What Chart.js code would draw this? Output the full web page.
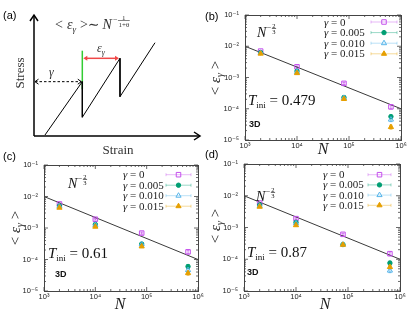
<!DOCTYPE html>
<html><head><meta charset="utf-8">
<script src="https://cdn.jsdelivr.net/npm/chart.js@4.4.1/dist/chart.umd.min.js"></script>
<style>
html,body{margin:0;padding:0;background:#fff;}
body{width:415px;height:312px;position:relative;overflow:hidden;}
canvas{position:absolute;}
</style></head><body>
<canvas id="pa" width="205" height="160" style="left:0px;top:0px"></canvas>
<canvas id="pb" width="215" height="155" style="left:200px;top:0px"></canvas>
<canvas id="pc" width="210" height="162" style="left:0px;top:150px"></canvas>
<canvas id="pd" width="215" height="162" style="left:200px;top:150px"></canvas>
<script>
// ---------------- data ----------------
const N_VALUES = [2000, 10000, 80000, 640000];
const GAMMA_LABELS = ['0', '0.005', '0.010', '0.015'];
const X_TICKS = [1e3, 1e4, 1e5, 1e6];
const Y_TICKS = [1e-5, 1e-4, 1e-3, 1e-2, 1e-1];
const FIT_N = [1e3, 1e6];
const FIT_EPS = [1e-2, 1e-4];
const ERR_REL = [0.05, 0.06, 0.08, 0.14];

// panel (b): T_ini = 0.479
const B_G0   = [7.0e-3, 2.2e-3, 6.5e-4, 1.15e-4];
const B_G005 = [6.3e-3, 1.6e-3, 2.3e-4, 5.6e-5];
const B_G010 = [6.1e-3, 1.5e-3, 2.2e-4, 4.5e-5];
const B_G015 = [5.8e-3, 1.38e-3, 2.05e-4, 2.6e-5];
// panel (c): T_ini = 0.61
const C_G0   = [5.8e-3, 1.9e-3, 6.9e-4, 1.75e-4];
const C_G005 = [5.0e-3, 1.3e-3, 3.1e-4, 6.0e-5];
const C_G010 = [4.8e-3, 1.25e-3, 3.0e-4, 4.6e-5];
const C_G015 = [4.4e-3, 1.1e-3, 2.6e-4, 3.7e-5];
// panel (d): T_ini = 0.87
const D_G0   = [5.9e-3, 1.9e-3, 6.1e-4, 1.5e-4];
const D_G005 = [5.1e-3, 1.45e-3, 2.9e-4, 7.6e-5];
const D_G010 = [4.8e-3, 1.35e-3, 2.9e-4, 4.4e-5];
const D_G015 = [4.5e-3, 1.18e-3, 2.85e-4, 5.7e-5];

// panel (a): schematic stress-strain sawtooth (arbitrary units)
const SAW_STRAIN = [0.66, 2.91, 2.91, 5.18, 5.18, 7.29];
const SAW_STRESS = [0.08, 4.49, 1.55, 6.42, 3.25, 7.71];
const GREEN_STRAIN = [2.91, 2.91];
const GREEN_STRESS = [3.86, 7.05];
const GAMMA_ARROW_STRAIN = [0, 2.91];
const GAMMA_ARROW_STRESS = 4.49;
const EPS_ARROW_STRAIN = [2.91, 5.18];
const EPS_ARROW_STRESS = 6.42;

// ---------------- helpers ----------------
const SERIF = '"Liberation Serif","DejaVu Serif",serif';
const SANS = '"Liberation Sans","DejaVu Sans",Arial,sans-serif';
const SUP = {'-':'\u207B','0':'\u2070','1':'\u00B9','2':'\u00B2','3':'\u00B3','4':'\u2074','5':'\u2075','6':'\u2076','7':'\u2077','8':'\u2078','9':'\u2079'};
function isPow10(v){ const e = Math.log10(v); return Math.abs(e - Math.round(e)) < 1e-9; }
function majorLabel(v){ if(!isPow10(v)) return ''; return '10' + String(Math.round(Math.log10(v))).split('').map(c=>SUP[c]).join(''); }
function withMinor(majors){
  const out = [];
  for (let i=0;i<majors.length;i++){
    out.push({value:majors[i]});
    if (i<majors.length-1) for (let m=2;m<=9;m++) out.push({value:majors[i]*m});
  }
  return out;
}
function frac(ctx, x, bar, num, den, s){
  ctx.font = s+'px '+SERIF;
  const w = Math.max(ctx.measureText(num).width, ctx.measureText(den).width)+1;
  const ta = ctx.textAlign; ctx.textAlign='center';
  ctx.fillText(num, x+w/2, bar-1.2);
  ctx.fillText(den, x+w/2, bar+s*0.72+0.6);
  ctx.textAlign = ta;
  ctx.fillRect(x, bar-0.6, w, 0.6);
  return w;
}
function runs(ctx, x, y, parts){
  ctx.textAlign='left';
  for (const p of parts){
    if (p.frac){ x += frac(ctx, x, y+(p.dy||0), p.frac[0], p.frac[1], p.s) + (p.dx||0); continue; }
    ctx.font = (p.it?'italic ':'') + (p.b?'bold ':'') + p.s + 'px ' + (p.f||SERIF);
    ctx.fillText(p.t, x, y+(p.dy||0));
    x += ctx.measureText(p.t).width + (p.dx||0);
  }
  return x;
}
function runsWidth(ctx, parts){
  let w = 0;
  for (const p of parts){
    if (p.frac){ ctx.font = p.s+'px '+SERIF; w += Math.max(ctx.measureText(p.frac[0]).width, ctx.measureText(p.frac[1]).width)+1+(p.dx||0); continue; }
    ctx.font = (p.it?'italic ':'') + (p.b?'bold ':'') + p.s + 'px ' + (p.f||SERIF);
    w += ctx.measureText(p.t).width + (p.dx||0);
  }
  return w;
}
function line(ctx,x0,y0,x1,y1){ ctx.beginPath(); ctx.moveTo(x0,y0); ctx.lineTo(x1,y1); ctx.stroke(); }

const SERIES_STYLE = [
  {color:'#c450ec', style:'rect', fill:false, r:3.2},
  {color:'#009e73', style:'circle', fill:true, r:2.2},
  {color:'#56b4e9', style:'triangle', fill:false, r:3},
  {color:'#e69f00', style:'triangle', fill:true, r:3}
];

// ---------------- panel (a) ----------------
const schematicPlugin = {
  id:'schematic',
  afterDraw(chart){
    const ctx = chart.ctx, a = chart.chartArea, sx = chart.scales.x, sy = chart.scales.y;
    ctx.save();
    ctx.strokeStyle = '#000'; ctx.fillStyle = '#000'; ctx.lineWidth = 1.5;
    // axes with chevrons
    line(ctx, a.left, a.bottom, a.left, a.top);
    ctx.beginPath(); ctx.moveTo(a.left-4, a.top+6); ctx.lineTo(a.left, a.top); ctx.lineTo(a.left+4, a.top+6); ctx.stroke();
    line(ctx, a.left, a.bottom, a.right, a.bottom);
    ctx.beginPath(); ctx.moveTo(a.right-6, a.bottom-4); ctx.lineTo(a.right, a.bottom); ctx.lineTo(a.right-6, a.bottom+4); ctx.stroke();
    // dashed gamma arrow
    const gy = sy.getPixelForValue(GAMMA_ARROW_STRESS);
    const gx0 = sx.getPixelForValue(GAMMA_ARROW_STRAIN[0])+1, gx1 = sx.getPixelForValue(GAMMA_ARROW_STRAIN[1])-1;
    ctx.lineWidth = 1; ctx.setLineDash([2.5,2]);
    line(ctx, gx0, gy, gx1, gy);
    ctx.setLineDash([]);
    ctx.beginPath(); ctx.moveTo(gx0+3.5, gy-2.5); ctx.lineTo(gx0, gy); ctx.lineTo(gx0+3.5, gy+2.5); ctx.stroke();
    ctx.beginPath(); ctx.moveTo(gx1-3.5, gy-2.5); ctx.lineTo(gx1, gy); ctx.lineTo(gx1-3.5, gy+2.5); ctx.stroke();
    // red epsilon arrow
    const ey = sy.getPixelForValue(EPS_ARROW_STRESS);
    const ex0 = sx.getPixelForValue(EPS_ARROW_STRAIN[0])+1, ex1 = sx.getPixelForValue(EPS_ARROW_STRAIN[1])-1;
    ctx.strokeStyle = '#f04848'; ctx.fillStyle = '#f04848'; ctx.lineWidth = 1.5;
    line(ctx, ex0+2, ey, ex1-2, ey);
    ctx.beginPath(); ctx.moveTo(ex0, ey); ctx.lineTo(ex0+4, ey-2.5); ctx.lineTo(ex0+4, ey+2.5); ctx.closePath(); ctx.fill();
    ctx.beginPath(); ctx.moveTo(ex1, ey); ctx.lineTo(ex1-4, ey-2.5); ctx.lineTo(ex1-4, ey+2.5); ctx.closePath(); ctx.fill();
    // texts
    ctx.fillStyle = '#000';
    ctx.font = '11px '+SANS; ctx.textAlign='left'; ctx.fillText('(a)', 3, 19);
    ctx.fillStyle = '#333';
    runs(ctx, 55, 29, [
      {t:'<', s:14, dx:4}, {t:'\u03B5', s:14, it:true}, {t:'\u03B3', s:9, it:true, dy:3, dx:4}, {t:'>\u223C', s:14, dx:3},
      {t:'N', s:14, it:true, dx:1}, {t:'\u2212', s:8, dy:-7, dx:0.5}, {frac:['1','1+\u03B8'], s:7, dy:-8}
    ]);
    runs(ctx, 49, 76, [{t:'\u03B3', s:12, it:true}]);
    runs(ctx, 97, 52, [{t:'\u03B5', s:12, it:true}, {t:'\u03B3', s:8, it:true, dy:3}]);
    ctx.font = '13px '+SERIF; ctx.textAlign='center';
    ctx.fillText('Strain', 118, 154);
    ctx.save(); ctx.translate(24, 73); ctx.rotate(-Math.PI/2); ctx.fillText('Stress', 0, 0); ctx.restore();
    ctx.restore();
  }
};
new Chart(document.getElementById('pa'), {
  type:'scatter',
  data:{datasets:[
    {data:SAW_STRAIN.map((x,i)=>({x, y:SAW_STRESS[i]})), showLine:true, pointRadius:0, borderColor:'#000', borderWidth:1, tension:0},
    {data:GREEN_STRAIN.map((x,i)=>({x, y:GREEN_STRESS[i]})), showLine:true, pointRadius:0, borderColor:'#33cc33', borderWidth:1.5, tension:0}
  ]},
  options:{
    responsive:false, animation:false, devicePixelRatio:1,
    layout:{padding:{left:34, right:5, top:15, bottom:24}},
    plugins:{legend:{display:false}, tooltip:{enabled:false}},
    scales:{x:{type:'linear', min:0, max:10, display:false}, y:{type:'linear', min:0, max:10, display:false}}
  },
  plugins:[schematicPlugin]
});

// ---------------- panels (b)-(d) ----------------
function makePanel(id, cfg){
  const datasets = [];
  for (let i=3;i>=0;i--){
    const st = SERIES_STYLE[i];
    datasets.push({
      label:'\u03B3 = '+GAMMA_LABELS[i],
      data:N_VALUES.map((n,k)=>({x:n, y:cfg.series[i][k]})),
      pointStyle:st.style, pointRadius:st.r, pointHoverRadius:st.r,
      borderColor:st.color, backgroundColor: st.fill ? st.color : 'rgba(0,0,0,0)',
      borderWidth:1, showLine:false, errRel:ERR_REL
    });
  }
  datasets.push({label:'fit', data:FIT_N.map((n,k)=>({x:n, y:FIT_EPS[k]})), showLine:true, pointRadius:0, borderColor:'#3a3a3a', borderWidth:1, tension:0});

  const deco = {
    id:'deco'+id,
    beforeDatasetsDraw(chart){
      const ctx = chart.ctx, sy = chart.scales.y;
      ctx.save(); ctx.lineWidth = 0.8;
      chart.data.datasets.forEach((d,i)=>{
        if (!d.errRel) return;
        const meta = chart.getDatasetMeta(i);
        ctx.strokeStyle = d.borderColor;
        d.data.forEach((p,k)=>{
          const x = meta.data[k].x, e = d.errRel[k];
          const y0 = sy.getPixelForValue(p.y*(1+e)), y1 = sy.getPixelForValue(p.y*(1-e));
          line(ctx, x, y0, x, y1); line(ctx, x-1.5, y0, x+1.5, y0); line(ctx, x-1.5, y1, x+1.5, y1);
        });
      });
      ctx.restore();
    },
    afterDraw(chart){
      const ctx = chart.ctx, a = chart.chartArea, sx = chart.scales.x, sy = chart.scales.y;
      ctx.save();
      ctx.strokeStyle = '#444'; ctx.lineWidth = 1;
      ctx.strokeRect(Math.round(a.left)+0.5, Math.round(a.top)+0.5, Math.round(a.right-a.left), Math.round(a.bottom-a.top));
      ctx.lineWidth = 0.8;
      sx.ticks.forEach(t=>{
        const p = sx.getPixelForValue(t.value), L = isPow10(t.value) ? 4 : 2;
        line(ctx, p, a.bottom, p, a.bottom-L); line(ctx, p, a.top, p, a.top+L);
      });
      sy.ticks.forEach(t=>{
        const p = sy.getPixelForValue(t.value), L = isPow10(t.value) ? 4 : 2;
        line(ctx, a.left, p, a.left+L, p); line(ctx, a.right, p, a.right-L, p);
      });
      // legend
      const lg = cfg.legend;
      for (let i=0;i<4;i++){
        const st = SERIES_STYLE[i], y = lg.y0 + i*lg.dy;
        ctx.fillStyle = '#222';
        runs(ctx, lg.tx, y+3.5, [{t:'\u03B3', s:11, it:true}, {t:' = '+GAMMA_LABELS[i], s:11}]);
        ctx.globalAlpha = 0.4; ctx.strokeStyle = st.color; ctx.lineWidth = 1;
        line(ctx, lg.sx0, y, lg.sx1, y); line(ctx, lg.sx0, y-1.5, lg.sx0, y+1.5); line(ctx, lg.sx1, y-1.5, lg.sx1, y+1.5);
        ctx.globalAlpha = 1;
        ctx.fillStyle = st.fill ? st.color : 'rgba(0,0,0,0)'; ctx.strokeStyle = st.color; ctx.lineWidth = 1;
        Chart.helpers.drawPoint(ctx, {pointStyle:st.style, radius:st.r, borderWidth:1, rotation:0}, (lg.sx0+lg.sx1)/2, y);
      }
      // annotations
      ctx.fillStyle = '#111';
      runs(ctx, cfg.nPow.x, cfg.nPow.y, [{t:'N', s:14, it:true, dx:0.5}, {t:'\u2212', s:8, dy:-7, dx:0.5}, {frac:['2','3'], s:6.5, dy:-8}]);
      runs(ctx, cfg.tiniPos.x, cfg.tiniPos.y, [{t:'T', s:15, it:true}, {t:'ini', s:9, dy:3}, {t:' = '+cfg.tini, s:15}]);
      runs(ctx, cfg.d3.x, cfg.d3.y, [{t:'3D', s:9, b:true, f:SANS}]);
      // axis titles
      ctx.fillStyle = '#222';
      ctx.font = 'italic 16px '+SERIF; ctx.textAlign = 'center';
      ctx.fillText('N', cfg.xTitle.x, cfg.xTitle.y);
      const yt = [{t:'< ', s:15}, {t:'\u03B5', s:15, it:true}, {t:'\u03B3', s:10, it:true, dy:3}, {t:' >', s:15}];
      ctx.save(); ctx.translate(cfg.yTitle.x, cfg.yTitle.y); ctx.rotate(-Math.PI/2);
      const w = runsWidth(ctx, yt); runs(ctx, -w/2, 5, yt); ctx.restore();
      ctx.fillStyle = '#000'; ctx.font = '11px '+SANS; ctx.textAlign='left';
      ctx.fillText(cfg.label.t, cfg.label.x, cfg.label.y);
      ctx.restore();
    }
  };
  const tickFont = {family:SANS, size:7.5};
  new Chart(document.getElementById(id), {
    type:'scatter',
    data:{datasets},
    options:{
      responsive:false, animation:false, devicePixelRatio:1,
      layout:{padding:{left:0, right:cfg.padR, top:cfg.padT, bottom:0}},
      plugins:{legend:{display:false}, tooltip:{enabled:false}},
      scales:{
        x:{type:'logarithmic', min:1e3, max:1e6,
           afterBuildTicks:s=>{ s.ticks = withMinor(X_TICKS); },
           ticks:{autoSkip:false, maxRotation:0, minRotation:0, padding:1, color:'#222', font:tickFont, callback:v=>majorLabel(v)},
           grid:{display:false, drawTicks:false}, border:{display:false},
           afterFit:s=>{ s.height = cfg.xH; }},
        y:{type:'logarithmic', min:1e-5, max:1e-1,
           afterBuildTicks:s=>{ s.ticks = withMinor(Y_TICKS); },
           ticks:{autoSkip:false, padding:6, color:'#222', font:tickFont, callback:v=>majorLabel(v)},
           grid:{display:false, drawTicks:false}, border:{display:false},
           afterFit:s=>{ s.width = cfg.yW; }}
      }
    },
    plugins:[deco]
  });
}

makePanel('pb', {
  series:[B_G0, B_G005, B_G010, B_G015], tini:'0.479',
  yW:45, xH:15, padR:14, padT:15,
  legend:{tx:124, sx0:171, sx1:197, y0:22, dy:10.6},
  nPow:{x:57, y:37}, tiniPos:{x:48, y:105}, d3:{x:49, y:127},
  xTitle:{x:123, y:154}, yTitle:{x:15, y:78}, label:{t:'(b)', x:5, y:20}
});
makePanel('pc', {
  series:[C_G0, C_G005, C_G010, C_G015], tini:'0.61',
  yW:44, xH:21, padR:12, padT:15,
  legend:{tx:123, sx0:166, sx1:191, y0:24.7, dy:10.5},
  nPow:{x:68, y:38}, tiniPos:{x:48, y:108}, d3:{x:55, y:127},
  xTitle:{x:120, y:159}, yTitle:{x:15, y:78}, label:{t:'(c)', x:3, y:10}
});
makePanel('pd', {
  series:[D_G0, D_G005, D_G010, D_G015], tini:'0.87',
  yW:44, xH:21, padR:15, padT:14,
  legend:{tx:123, sx0:168, sx1:191, y0:24.7, dy:10.2},
  nPow:{x:56, y:51}, tiniPos:{x:47, y:107}, d3:{x:47, y:125},
  xTitle:{x:125, y:159}, yTitle:{x:15, y:76}, label:{t:'(d)', x:5, y:8}
});
</script></body></html>
